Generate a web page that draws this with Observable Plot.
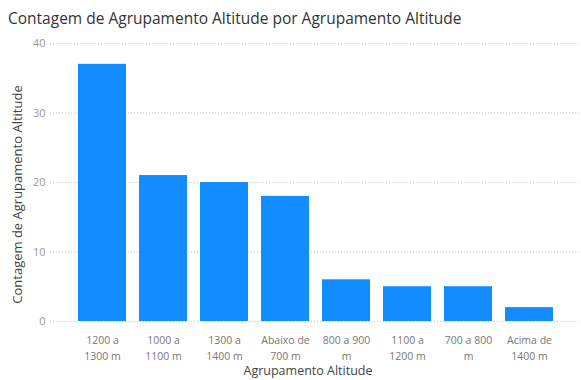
<!DOCTYPE html>
<html>
<head>
<meta charset="utf-8">
<script src="https://cdn.jsdelivr.net/npm/d3@7"></script>
<script src="https://cdn.jsdelivr.net/npm/@observablehq/plot@0.6"></script>
<style>
  body { margin: 0; background: #fff; font-family: "Open Sans", "Noto Sans", sans-serif; }
  #title { height: 30px; box-sizing: border-box; padding: 7px 0 0 8px; font-size: 15.5px; color: #333; white-space: nowrap; }
  #chart svg { display: block; }
</style>
</head>
<body>
<div id="title">Contagem de Agrupamento Altitude por Agrupamento Altitude</div>
<div id="chart"></div>
<script>
const categories = ["1200 a 1300 m", "1000 a 1100 m", "1300 a 1400 m", "Abaixo de 700 m", "800 a 900 m", "1100 a 1200 m", "700 a 800 m", "Acima de 1400 m"];
const counts = [37, 21, 20, 18, 6, 5, 5, 2];
const tickLabels = ["1200 a\n1300 m", "1000 a\n1100 m", "1300 a\n1400 m", "Abaixo de\n700 m", "800 a 900\nm", "1100 a\n1200 m", "700 a 800\nm", "Acima de\n1400 m"];
const yTicks = [0, 10, 20, 30, 40];

const data = categories.map((c, i) => ({category: c, count: counts[i]}));
const labelOf = new Map(categories.map((c, i) => [c, tickLabels[i]]));

const chart = Plot.plot({
  width: 581,
  height: 350,
  marginTop: 13,
  marginBottom: 59,
  marginLeft: 50,
  marginRight: 0,
  style: {fontFamily: "'Open Sans', 'Noto Sans', sans-serif", background: "#fff", overflow: "visible"},
  x: {domain: categories, paddingInner: 0.22, paddingOuter: 0.11, insetLeft: 19, insetRight: 19, label: null},
  y: {domain: [0, 40], label: null},
  marks: [
    Plot.gridY(yTicks, {stroke: "#c8c8c8", strokeOpacity: 1, strokeDasharray: "1,2"}),
    Plot.barY(data, {x: "category", y: "count", fill: "#118DFF"}),
    Plot.axisY(yTicks, {tickSize: 0, tickPadding: 5, fontSize: 11, fill: "#999", label: null}),
    Plot.axisX({tickSize: 0, tickPadding: 12, fontSize: 10.5, fill: "#777", lineHeight: 1.45, tickFormat: d => labelOf.get(d), label: null}),
    Plot.text(["Agrupamento Altitude"], {frameAnchor: "bottom", dx: -8, dy: 53, fontSize: 12.5, fill: "#444"}),
    Plot.text(["Contagem de Agrupamento Altitude"], {frameAnchor: "left", textAnchor: "middle", dx: -33, dy: 12, rotate: -90, fontSize: 13, fill: "#444"})
  ]
});
document.getElementById("chart").appendChild(chart);
</script>
</body>
</html>
